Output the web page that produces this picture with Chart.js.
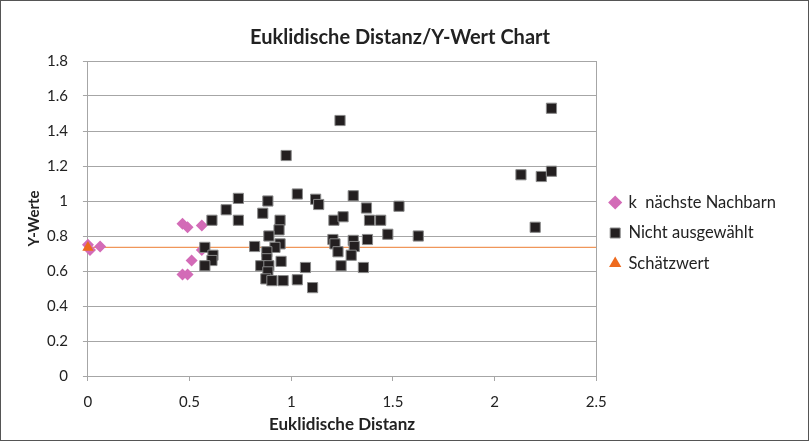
<!DOCTYPE html>
<html>
<head>
<meta charset="utf-8">
<script src="https://cdn.jsdelivr.net/npm/chart.js@4/dist/chart.umd.min.js"></script>
<style>
  html, body { margin: 0; padding: 0; background: #fff; }
  #wrap { position: relative; width: 807px; height: 439px; border: 1px solid #555; }
</style>
</head>
<body>
<div id="wrap"><canvas id="chart" width="807" height="439"></canvas></div>
<script>
// k nächste Nachbarn
const neighbourX = [0.0, 0.01, 0.06, 0.465, 0.49, 0.56, 0.56, 0.51, 0.465, 0.49];
const neighbourY = [0.75, 0.72, 0.74, 0.87, 0.85, 0.86, 0.72, 0.66, 0.58, 0.58];

// Nicht ausgewählt
const otherX = [0.575, 0.615, 0.61, 0.575, 0.61, 0.68, 0.74, 0.74, 0.82, 0.86,
  0.885, 0.945, 0.94, 0.89, 0.945, 0.92, 0.88, 0.88, 0.95, 0.85,
  0.89, 0.885, 0.875, 0.905, 0.96, 1.03, 1.07, 1.105, 0.975, 1.03,
  1.12, 1.135, 1.24, 1.305, 1.37, 1.53, 1.21, 1.255, 1.385, 1.44,
  1.205, 1.215, 1.305, 1.31, 1.23, 1.295, 1.375, 1.475, 1.625, 1.245,
  1.355, 2.13, 2.23, 2.28, 2.28, 2.2];
const otherY = [0.735, 0.69, 0.66, 0.63, 0.89, 0.95, 1.015, 0.89, 0.74, 0.93,
  1.0, 0.89, 0.835, 0.80, 0.755, 0.735, 0.71, 0.67, 0.655, 0.63,
  0.63, 0.595, 0.555, 0.545, 0.545, 0.55, 0.62, 0.505, 1.26, 1.04,
  1.01, 0.98, 1.46, 1.03, 0.96, 0.97, 0.89, 0.91, 0.89, 0.89,
  0.78, 0.755, 0.775, 0.74, 0.71, 0.69, 0.78, 0.81, 0.80, 0.63,
  0.62, 1.15, 1.14, 1.17, 1.53, 0.85];

// Schätzwert
const estimateX = [0];
const estimateY = [0.735];

const xTicksMax = 2.5;
const yTicksMax = 1.8;

const toPoints = (xs, ys) => xs.map((x, i) => ({ x: x, y: ys[i] }));
const fmt = v => String(Number(v.toFixed(2)));

const font = "Lato, 'Open Sans', sans-serif";
const gray = '#a6a6a6';

let chart = new Chart(document.getElementById('chart').getContext('2d'), {
    type: 'scatter',
    data: {
        datasets: [{
            label: 'k  nächste Nachbarn',
            data: toPoints(neighbourX, neighbourY),
            pointStyle: 'rectRot',
            pointRadius: 6,
            backgroundColor: '#d36bb7',
            borderColor: '#d36bb7',
            borderWidth: 0,
            clip: false,
            order: 2,
        }, {
            label: 'Nicht ausgewählt',
            data: toPoints(otherX, otherY),
            pointStyle: 'rect',
            pointRadius: 7.2,
            backgroundColor: '#231f20',
            borderColor: '#8a8a8a',
            borderWidth: 1,
            clip: false,
            order: 1,
        }, {
            label: 'Schätzwert',
            data: toPoints(estimateX, estimateY),
            pointStyle: 'triangle',
            pointRadius: 6.5,
            backgroundColor: '#ee6a1e',
            borderColor: '#ee6a1e',
            borderWidth: 0,
            clip: false,
            order: 0,
        }, {
            type: 'line',
            label: 'line',
            data: [{ x: 0, y: estimateY[0] }, { x: xTicksMax, y: estimateY[0] }],
            borderColor: '#f0965a',
            borderWidth: 1.2,
            pointRadius: 0,
            order: 3,
        }],
    },
    options: {
        responsive: false,
        animation: false,
        layout: { padding: { left: 13, right: 22, top: 25, bottom: 0 } },
        plugins: {
            title: {
                display: true,
                text: 'Euklidische Distanz/Y-Wert Chart',
                color: '#222',
                font: { family: font, size: 20, weight: 'bold' },
                padding: { top: 0, bottom: 11 },
            },
            legend: {
                position: 'right',
                labels: {
                    usePointStyle: true,
                    boxWidth: 10,
                    boxHeight: 10,
                    padding: 14,
                    color: '#222',
                    font: { family: font, size: 16.5 },
                    filter: item => item.text !== 'line',
                    sort: (a, b) => a.datasetIndex - b.datasetIndex,
                },
            },
            tooltip: { enabled: false },
        },
        scales: {
            x: {
                type: 'linear',
                min: 0,
                max: xTicksMax,
                ticks: { stepSize: 0.5, color: '#222', font: { family: font, size: 15 }, padding: 12, callback: fmt },
                grid: {
                    color: ctx => (ctx.tick && ctx.tick.value === xTicksMax) ? gray : 'rgba(0,0,0,0)',
                    tickColor: gray,
                    tickLength: 5,
                },
                border: { color: gray },
                title: {
                    display: true,
                    text: 'Euklidische Distanz',
                    color: '#222',
                    font: { family: font, size: 17, weight: 'bold', lineHeight: 1 },
                    padding: { top: -7, bottom: 7 },
                },
            },
            y: {
                type: 'linear',
                min: 0,
                max: yTicksMax,
                ticks: { stepSize: 0.2, color: '#222', font: { family: font, size: 15 }, padding: 15, callback: fmt },
                grid: { color: gray, tickColor: gray, tickLength: 5 },
                border: { color: gray },
                title: {
                    display: true,
                    text: 'Y-Werte',
                    color: '#222',
                    font: { family: font, size: 15, weight: 'bold' },
                    padding: { top: 11, bottom: -11 },
                },
            },
        },
    },
});
</script>
</body>
</html>
